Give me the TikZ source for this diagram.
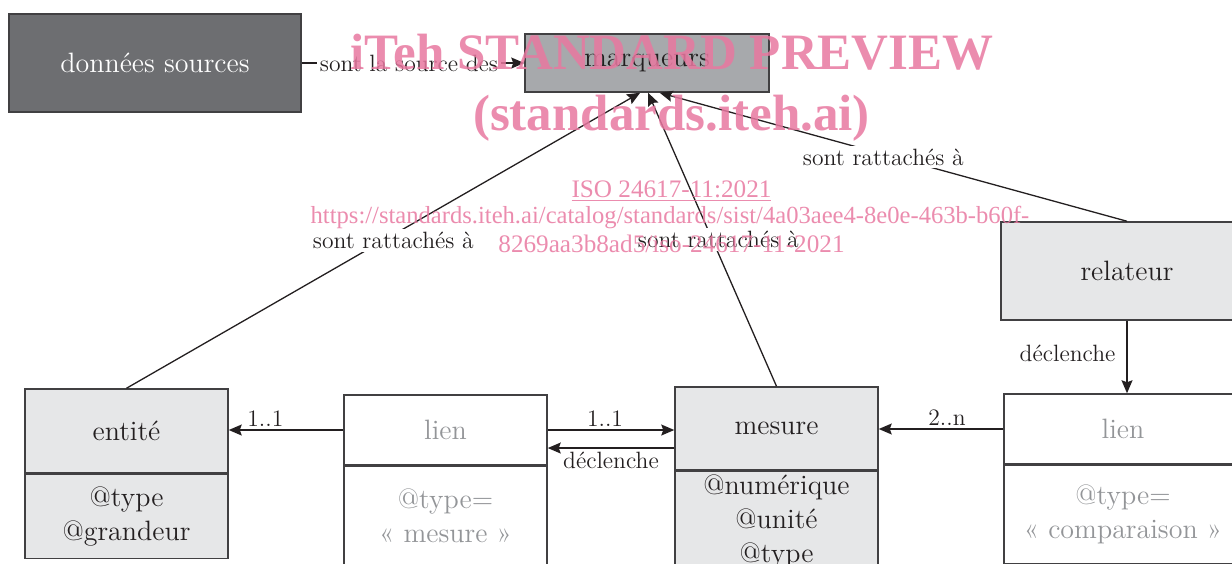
\documentclass[tikz,border=0pt]{standalone}
\usepackage{fontspec}
\newfontfamily\wmfont{Liberation Serif}
\usetikzlibrary{arrows.meta}
\usetikzlibrary{positioning}

\definecolor{darkbox}{RGB}{109,110,113}
\definecolor{midbox}{RGB}{167,169,172}
\definecolor{lightbox}{RGB}{230,231,232}
\definecolor{linkgray}{RGB}{147,149,152}
\definecolor{boxline}{RGB}{65,64,66}
\definecolor{inkblack}{RGB}{35,31,32}
\definecolor{wmpink}{RGB}{232,120,160}

\begin{document}
\begin{tikzpicture} [
        x = 0.5pt,
        y = -0.5pt,
        node distance = 0pt,
        every node/.style = {
          align = center,
          text = inkblack,
        },
        umlbox/.style = {
          draw = boxline,
          line width = 0.75pt,
          inner sep = 2pt,
          font = \fontsize{14}{17}\selectfont,
        },
        linkbox/.style = {
          umlbox,
          fill = white,
          text = linkgray,
        },
        linklabel/.style = {
          fill = white,
          inner sep = 1.5pt,
          font = \fontsize{11.8}{14}\selectfont,
        },
        assoc/.style = {
          draw = inkblack,
          line width = 0.65pt,
          -{Stealth[length = 6.5pt, width = 5.5pt, inset = 1pt]},
        },
        watermark/.style = {
          text = wmpink,
          text opacity = 0.85,
          anchor = base,
          inner sep = 0pt,
        },
      ]

    \useasboundingbox (0,0) rectangle (1232,563);

    % top row
    \node [umlbox, fill = darkbox, text = white, minimum width = 146pt, minimum height = 49pt] at (155,63) (sources) {données sources};
    \node [umlbox, fill = midbox, minimum width = 122pt, minimum height = 29pt] at (647,63) (marqueurs) {marqueurs};
    \node [umlbox, fill = lightbox, minimum width = 126pt, minimum height = 49pt] at (1127,271) (relateur) {relateur};

    % classes with attributes
    \node [umlbox, fill = lightbox, minimum width = 101.5pt, minimum height = 42pt] at (126.5,431) (entite) {entité};
    \node [umlbox, fill = lightbox, minimum width = 101.5pt, minimum height = 42pt, below = of entite] (entiteAttr) {@type\\@grandeur};

    \node [linkbox, minimum width = 101.5pt, minimum height = 35pt] at (445.5,430) (lienMes) {lien};
    \node [linkbox, minimum width = 101.5pt, minimum height = 49pt, below = of lienMes] (lienMesAttr) {@type=\\« mesure »};

    \node [umlbox, fill = lightbox, minimum width = 101.5pt, minimum height = 41.5pt] at (776.5,428.5) (mesure) {mesure};
    \node [umlbox, fill = lightbox, minimum width = 101.5pt, inner ysep = 1.5pt, below = of mesure] (mesureAttr) {@numérique\\@unité\\@type};

    \node [linkbox, minimum width = 119pt, minimum height = 35pt] at (1123,429) (lienComp) {lien};
    \node [linkbox, minimum width = 119pt, minimum height = 49pt, below = of lienComp] (lienCompAttr) {@type=\\« comparaison »};

    % associations
    \draw[assoc] (sources) -- node[linklabel, xshift = -2pt] {sont la source des} (marqueurs);
    \draw[assoc] (entite.north) -- node[linklabel, xshift = 5pt] {sont rattachés à} (marqueurs.-103);
    \draw[assoc] (mesure.north) -- node[linklabel, xshift = 3pt] {sont rattachés à} (marqueurs.-88);
    \draw[assoc] (relateur.north) -- node[linklabel, xshift = -5pt] {sont rattachés à} (marqueurs.-67);

    \draw[assoc] (relateur.south) -- node[linklabel, left = 4pt, yshift = 2pt, fill = none] {déclenche} (relateur.south |- lienComp.north);
    \draw[assoc] (lienComp.west) -- node[linklabel, above, fill = none, xshift = 3pt] {2..n} (lienComp.west -| mesure.east);
    \draw[assoc] (lienMes.east) -- node[linklabel, above, fill = none, xshift = -3pt] {1..1} (lienMes.east -| mesure.west);
    \draw[assoc] (mesure.west |- lienMes.-10) -- node[linklabel, below, fill = none] {déclenche} (lienMes.-10);
    \draw[assoc] (lienMes.west) -- node[linklabel, above, fill = none, pos = 0.68] {1..1} (lienMes.west -| entite.east);

    % preview stamp
    \node [watermark, font = \wmfont\bfseries\fontsize{25.5}{30}\selectfont] at (672,69) (wmTitle) {iTeh STANDARD PREVIEW};
    \node [watermark, font = \wmfont\bfseries\fontsize{25.5}{30}\selectfont] at (671.5,130) (wmSite) {(standards.iteh.ai)};
    \node [watermark, font = \wmfont\fontsize{12.6}{15}\selectfont] at (671.5,197) (wmIso) {\underline{ISO 24617-11:2021}};
    \node [watermark, font = \wmfont\fontsize{12.3}{15}\selectfont] at (670,223) (wmUrl) {https://standards.iteh.ai/catalog/standards/sist/4a03aee4-8e0e-463b-b60f-};
    \node [watermark, font = \wmfont\fontsize{12.6}{15}\selectfont] at (671.5,252) (wmUrlEnd) {8269aa3b8ad5/iso-24617-11-2021};
  \end{tikzpicture}
\end{document}
